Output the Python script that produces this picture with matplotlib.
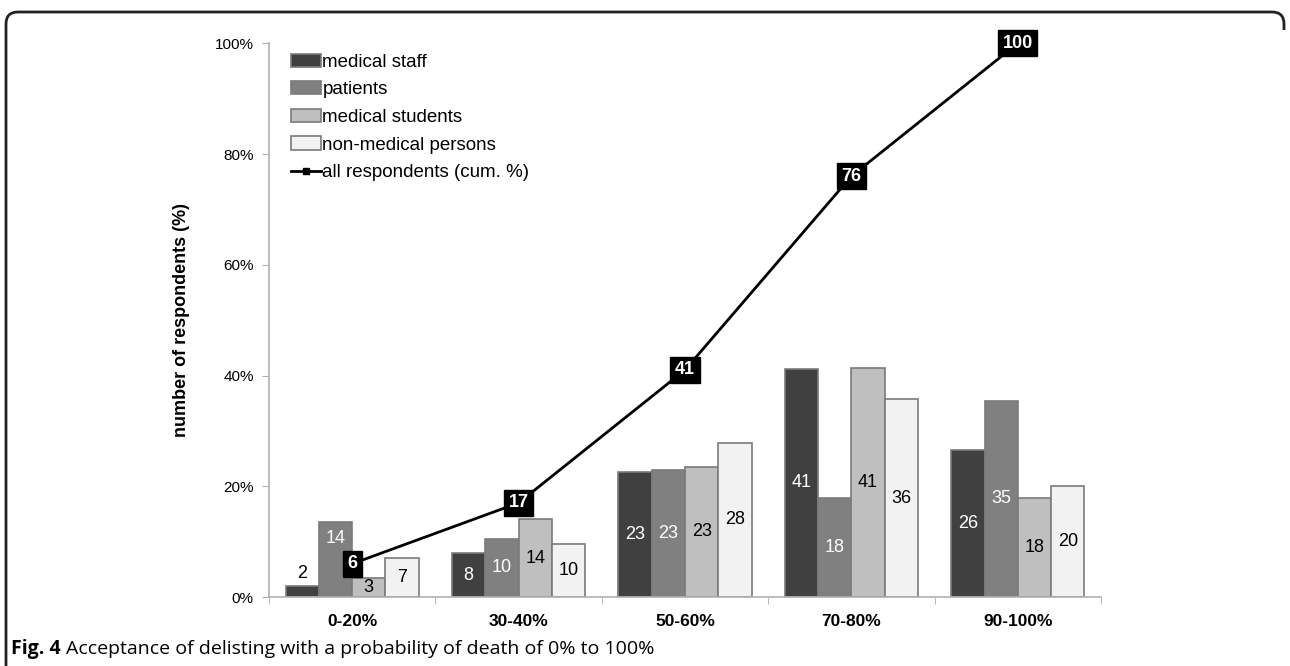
import numpy as np
import matplotlib.pyplot as plt
from matplotlib.path import Path
from matplotlib.patches import PathPatch

plt.rcParams['font.family'] = ['Liberation Sans', 'DejaVu Sans']

# data
categories = ['0-20%', '30-40%', '50-60%', '70-80%', '90-100%']
groups = ['medical staff', 'patients', 'medical students', 'non-medical persons']
medical_staff = [2.0, 7.9, 22.5, 41.2, 26.5]
patients = [13.6, 10.5, 23.0, 17.8, 35.4]
medical_students = [3.4, 14.0, 23.5, 41.3, 17.9]
non_medical = [7.0, 9.6, 27.9, 35.7, 20.0]
staff_labels = ['2', '8', '23', '41', '26']
patient_labels = ['14', '10', '23', '18', '35']
student_labels = ['3', '14', '23', '41', '18']
nonmed_labels = ['7', '10', '28', '36', '20']
cumulative = [6, 17, 41, 76, 100]

series = [medical_staff, patients, medical_students, non_medical]
labels = [staff_labels, patient_labels, student_labels, nonmed_labels]
colors = ['#404040', '#808080', '#bfbfbf', '#f2f2f2']
text_colors = ['white', 'white', 'black', 'black']

fig = plt.figure(figsize=(12.9, 6.66), dpi=100)
ax = fig.add_axes([0.2085, 0.1036, 0.645, 0.8314])

x = np.arange(len(categories))
w = 0.2
for i, (vals, col) in enumerate(zip(series, colors)):
    pos = x + (i - 1.5) * w
    ax.bar(pos, vals, width=w, color=col, edgecolor='#7a7a7a', linewidth=1.2,
           label=groups[i], zorder=2)
    for j, (p, v) in enumerate(zip(pos, vals)):
        ly = v / 2
        tc = text_colors[i]
        if j == 0 and i == 0:
            ly = v + 2.2
            tc = 'black'
        if j == 0 and i == 1:
            ly = 10.5
        ax.text(p, ly, labels[i][j], ha='center', va='center', color=tc,
                fontsize=13, zorder=3)

ax.plot(x, cumulative, color='black', lw=2, marker='s', ms=5,
        label='all respondents (cum. %)', zorder=4)
for xi, c in zip(x, cumulative):
    ax.text(xi, c, str(c), ha='center', va='center', color='white',
            fontsize=13, fontweight='bold', zorder=5,
            bbox=dict(boxstyle='square,pad=0.25', fc='black', ec='black'))

ax.set_xlim(-0.5, len(categories) - 0.5)
ax.set_ylim(0, 100)
ax.set_yticks(np.arange(0, 101, 20))
ax.set_yticklabels([f'{t}%' for t in range(0, 101, 20)], fontsize=11)
ax.set_xticks(x)
ax.set_xticklabels(categories, fontsize=12.5, fontweight='bold')
ax.tick_params(axis='x', length=0, pad=12)
ax.set_xticks(np.arange(-0.5, len(categories), 1), minor=True)
ax.tick_params(axis='x', which='minor', length=5, color='#b0b0b0', direction='out')
ax.tick_params(axis='y', length=5, color='#b0b0b0', pad=6)
for s in ['top', 'right']:
    ax.spines[s].set_visible(False)
for s in ['left', 'bottom']:
    ax.spines[s].set_color('#b0b0b0')
    ax.spines[s].set_linewidth(1.2)
ax.set_ylabel('number of respondents (%)', fontsize=13, fontweight='bold', labelpad=18)

handles, names = ax.get_legend_handles_labels()
handles = handles[1:] + handles[:1]
names = names[1:] + names[:1]
ax.legend(handles, names, loc='upper left', bbox_to_anchor=(0.017, 0.995),
          frameon=False, fontsize=13.5, handlelength=1.6, handletextpad=0.1,
          labelspacing=0.56, borderaxespad=0)

# caption
cy = 1 - 649 / 666
t1 = fig.text(11 / 1290, cy, 'Fig. 4', fontsize=14, fontweight='bold',
              family='Open Sans', va='center', ha='left')
fig.canvas.draw()
bb = t1.get_window_extent()
fig.text((bb.x1 + 5) / 1290, cy,
         'Acceptance of delisting with a probability of death of 0% to 100%',
         fontsize=14, family='Open Sans', va='center', ha='left')

# rounded frame
W, H = 1290, 666
r = 12
verts = [(6, -5), (6, H - 12 - r), (6, H - 12), (6 + r, H - 12),
         (W - 6 - r, H - 12), (W - 6, H - 12), (W - 6, H - 12 - r), (W - 6, H - 30)]
codes = [Path.MOVETO, Path.LINETO, Path.CURVE3, Path.CURVE3,
         Path.LINETO, Path.CURVE3, Path.CURVE3, Path.LINETO]
verts = [(vx / W, vy / H) for vx, vy in verts]
fig.patches.append(PathPatch(Path(verts, codes), transform=fig.transFigure,
                             fill=False, lw=2, ec='#222222'))

fig.savefig('out.png', dpi=100)
